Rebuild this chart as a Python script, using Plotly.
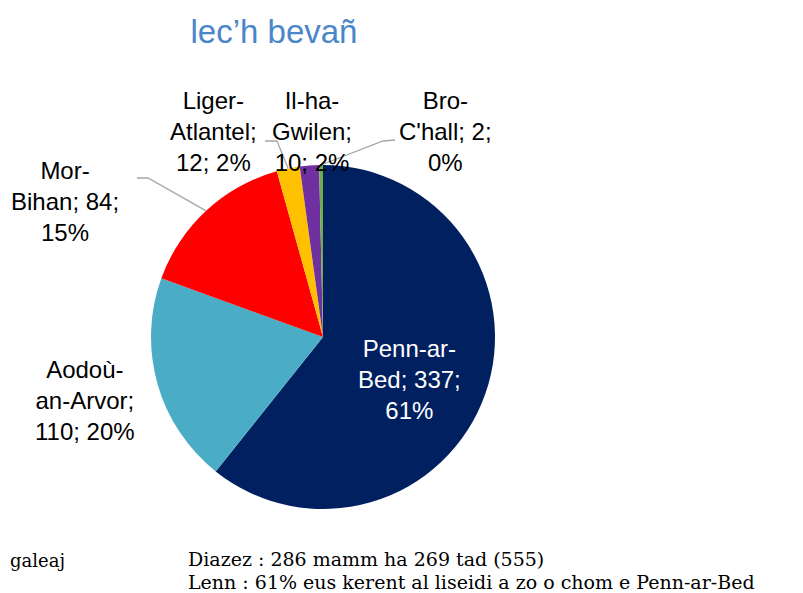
import math
import plotly.graph_objects as go

# ---- data ----
regions = ["Penn-ar-Bed", "Aodoù-an-Arvor", "Mor-Bihan", "Liger-Atlantel", "Il-ha-Gwilen", "Bro-C'hall"]
wrapped_names = ["Penn-ar-<br>Bed", "Aodoù-<br>an-Arvor", "Mor-<br>Bihan", "Liger-<br>Atlantel", "Il-ha-<br>Gwilen", "Bro-<br>C'hall"]
break_after_value = [True, False, True, False, False, True]
counts = [337, 110, 84, 12, 10, 2]
colors = ["#002060", "#4BACC6", "#FF0000", "#FFC000", "#7030A0", "#70AD47"]
title_text = "lec’h bevañ"
note_left = "galeaj"
note_lines = ["Diazez : 286 mamm ha 269 tad (555)",
              "Lenn : 61% eus kerent al liseidi a zo o chom e Penn-ar-Bed"]

# ---- layout geometry (pixels in the 803x593 window; page has an 8px body margin) ----
OFF = 8
W, H = 803 - OFF, 593 - OFF
CX, CY, R = 323, 337, 172
def px(x): return (x - OFF) / W
def py(y): return 1 - (y - OFF) / H

# label centres (pixel), text colour, leader elbow (None = no leader)
label_pos = [(409, 379), (85, 401), (65, 202), (213, 131), (312, 131), (445, 131)]
label_col = ["white", "black", "black", "black", "black", "black"]
leader = [None, None, ((137, 178), (148, 178)), ((265, 141), (277, 141)), None, ((395, 140), (383, 141))]

total = sum(counts)
pcts = [round(c / total * 100) for c in counts]

fig = go.Figure(go.Pie(
    labels=regions, values=counts, sort=False, direction="clockwise", rotation=0,
    marker=dict(colors=colors, line=dict(width=0)),
    textinfo="none", hoverinfo="label+value+percent", showlegend=False,
    domain=dict(x=[px(CX - R), px(CX + R)], y=[py(CY + R), py(CY - R)]),
))

annotations = []
shapes = []
cum = 0
for i, (name, c, p) in enumerate(zip(wrapped_names, counts, pcts)):
    if break_after_value[i]:
        txt = f"{name}; {c};<br>{p}%"
    else:
        txt = f"{name};<br>{c}; {p}%"
    lx, ly = label_pos[i]
    annotations.append(dict(x=px(lx), y=py(ly), xref="paper", yref="paper", text=txt,
                            showarrow=False, xanchor="center", yanchor="middle",
                            font=dict(family="Liberation Sans, Arial, sans-serif", size=24, color=label_col[i])))
    mid = (cum + c / 2) / total * 2 * math.pi
    cum += c
    if leader[i] is not None:
        (x0, y0), (x1, y1) = leader[i]
        ex = CX + R * math.sin(mid)
        ey = CY - R * math.cos(mid)
        path = f"M {px(x0)},{py(y0)} L {px(x1)},{py(y1)} L {px(ex)},{py(ey)}"
        shapes.append(dict(type="path", xref="paper", yref="paper", path=path,
                           line=dict(color="#A6A6A6", width=1.3)))

serif = "DejaVu Serif, Liberation Serif, serif"
annotations.append(dict(x=0, y=py(560), xref="paper", yref="paper", text=note_left,
                        showarrow=False, xanchor="left", yanchor="middle",
                        font=dict(family=serif, size=18, color="black")))
for k, line in enumerate(note_lines):
    annotations.append(dict(x=px(186), y=py(559 + 23 * k), xref="paper", yref="paper", text=line,
                            showarrow=False, xanchor="left", yanchor="middle",
                            font=dict(family=serif, size=19, color="black")))

fig.update_layout(
    width=W, height=H, margin=dict(l=0, r=0, t=0, b=0),
    paper_bgcolor="white", plot_bgcolor="white",
    title=dict(text=title_text, x=px(274), xanchor="center", y=py(31), yanchor="middle",
               font=dict(family="Liberation Sans, Arial, sans-serif", size=33, color="#4A86C8")),
    annotations=annotations, shapes=shapes,
)
fig.write_html("out.html")
